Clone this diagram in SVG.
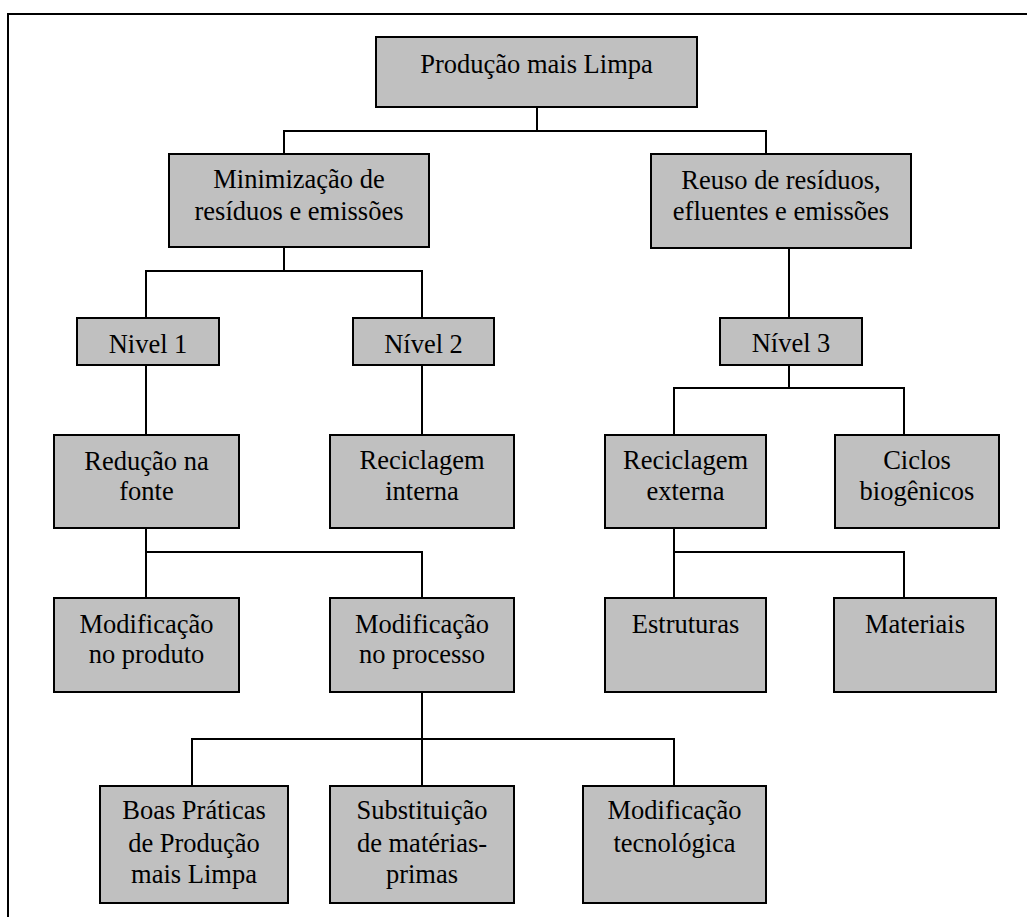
<svg xmlns="http://www.w3.org/2000/svg" width="1027" height="917" viewBox="0 0 1027 917">
<style>
.box{fill:#c0c0c0;stroke:#000;stroke-width:2}
.t{font-family:"Liberation Serif","Times New Roman",serif;font-size:26.5px;fill:#000;text-anchor:middle}
.c{fill:none;stroke:#000;stroke-width:2}
</style>
<rect x="0" y="0" width="1027" height="917" fill="#fff"/>
<rect x="8" y="14" width="1030" height="920" fill="none" stroke="#000" stroke-width="2"/>
<g id="connectors" class="c">
<path d="M537,107 V131 M284,154 V131 H766 V154"/>
<path d="M284,247 V271 M146,318 V271 H422 V318"/>
<path d="M146,365 V435 M422,365 V435"/>
<path d="M146,528 V598 M146,552 H422 V598"/>
<path d="M422,692 V786 M192,786 V739 H674 V786"/>
<path d="M789,248 V318 M789,365 V388 M674,435 V388 H904 V435"/>
<path d="M674,528 V598 M674,552 H904 V598"/>
</g>
<g id="n-pml"><rect class="box" x="376" y="37" width="321" height="70"/><text class="t" x="536.5" y="73">Produção mais Limpa</text></g>
<g id="n-min"><rect class="box" x="169" y="154" width="260" height="93"/><text class="t" x="299" y="188">Minimização de</text><text class="t" x="299" y="220">resíduos e emissões</text></g>
<g id="n-reuso"><rect class="box" x="651" y="154" width="260" height="94"/><text class="t" x="781" y="189">Reuso de resíduos,</text><text class="t" x="781" y="220">efluentes e emissões</text></g>
<g id="n-nivel1"><rect class="box" x="77" y="318" width="142" height="47"/><text class="t" x="148" y="353">Nivel 1</text></g>
<g id="n-nivel2"><rect class="box" x="353" y="318" width="141" height="47"/><text class="t" x="423.5" y="353">Nível 2</text></g>
<g id="n-nivel3"><rect class="box" x="720" y="318" width="142" height="47"/><text class="t" x="791" y="352">Nível 3</text></g>
<g id="n-reducao"><rect class="box" x="54" y="435" width="185" height="93"/><text class="t" x="146.5" y="470">Redução na</text><text class="t" x="146.5" y="500">fonte</text></g>
<g id="n-recint"><rect class="box" x="330" y="435" width="184" height="93"/><text class="t" x="422" y="469">Reciclagem</text><text class="t" x="422" y="500">interna</text></g>
<g id="n-recext"><rect class="box" x="605" y="435" width="161" height="93"/><text class="t" x="685.5" y="469">Reciclagem</text><text class="t" x="685.5" y="500">externa</text></g>
<g id="n-ciclos"><rect class="box" x="835" y="435" width="164" height="93"/><text class="t" x="917" y="469">Ciclos</text><text class="t" x="917" y="500">biogênicos</text></g>
<g id="n-modprod"><rect class="box" x="54" y="598" width="185" height="94"/><text class="t" x="146.5" y="633">Modificação</text><text class="t" x="146.5" y="663">no produto</text></g>
<g id="n-modproc"><rect class="box" x="330" y="598" width="184" height="94"/><text class="t" x="422" y="633">Modificação</text><text class="t" x="422" y="663">no processo</text></g>
<g id="n-estr"><rect class="box" x="605" y="598" width="161" height="94"/><text class="t" x="685.5" y="633">Estruturas</text></g>
<g id="n-mat"><rect class="box" x="834" y="598" width="162" height="94"/><text class="t" x="915" y="633">Materiais</text></g>
<g id="n-boas"><rect class="box" x="100" y="786" width="188" height="117"/><text class="t" x="194" y="819">Boas Práticas</text><text class="t" x="194" y="852">de Produção</text><text class="t" x="194" y="883">mais Limpa</text></g>
<g id="n-subst"><rect class="box" x="330" y="786" width="184" height="117"/><text class="t" x="422" y="819">Substituição</text><text class="t" x="422" y="852">de matérias-</text><text class="t" x="422" y="883">primas</text></g>
<g id="n-modtec"><rect class="box" x="583" y="786" width="183" height="117"/><text class="t" x="674.5" y="819">Modificação</text><text class="t" x="674.5" y="852">tecnológica</text></g>
</svg>
